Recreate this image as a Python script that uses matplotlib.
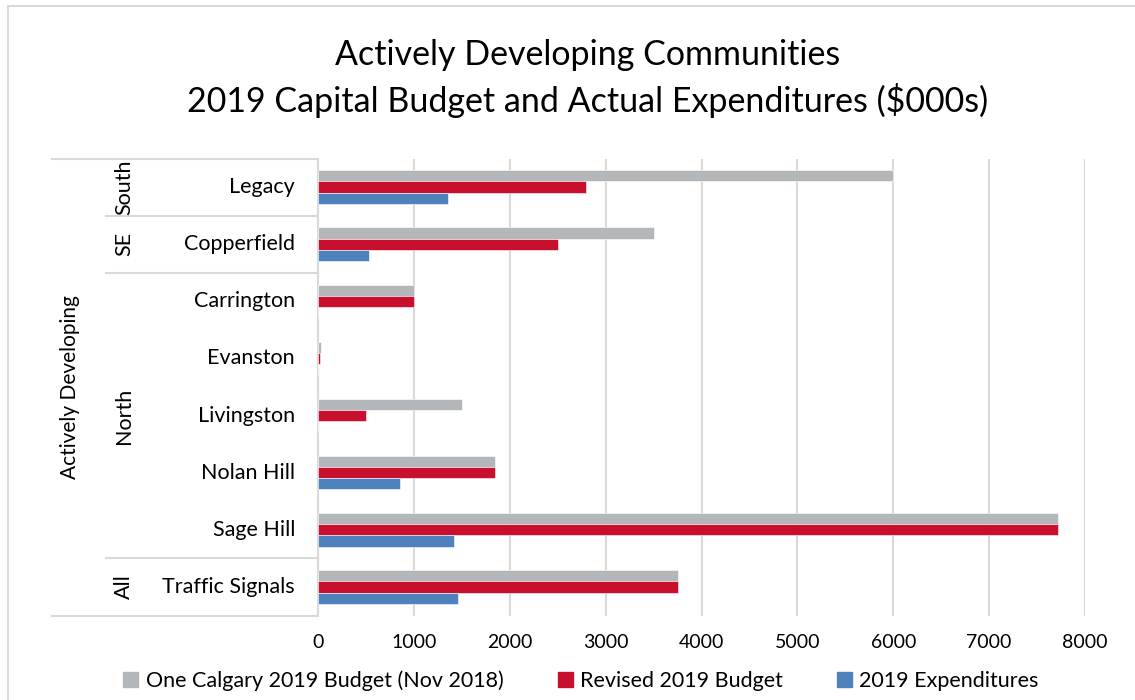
import matplotlib
matplotlib.use("Agg")
import matplotlib.pyplot as plt
from matplotlib import transforms
from matplotlib.lines import Line2D
from matplotlib.patches import Rectangle

plt.rcParams["font.family"] = ["Lato", "DejaVu Sans"]

# 커뮤니티별 예산/지출 ($000s), 위에서 아래 순서
communities = ["Legacy", "Copperfield", "Carrington", "Evanston",
               "Livingston", "Nolan Hill", "Sage Hill", "Traffic Signals"]
one_calgary_budget = [6000, 3500, 1000, 30, 1500, 1850, 7720, 3750]
revised_budget = [2800, 2500, 1000, 25, 500, 1850, 7720, 3750]
expenditures = [1360, 535, 0, 0, 0, 860, 1420, 1465]

# 지역 그룹: (이름, 첫 행, 행 수)
regions = [("South", 0, 1), ("SE", 1, 1), ("North", 2, 5), ("All", 7, 1)]
outer_group = "Actively Developing"

series_labels = ["One Calgary 2019 Budget (Nov 2018)", "Revised 2019 Budget",
                 "2019 Expenditures"]
series_colors = ["#B4B7BA", "#C8102E", "#4F81BD"]
x_ticks = [0, 1000, 2000, 3000, 4000, 5000, 6000, 7000, 8000]

W, H = 1135, 700
fig = plt.figure(figsize=(W / 100, H / 100), dpi=100)


def fx(px):
    return px / W


def fy(py):
    return 1 - py / H


# 차트 테두리 (오른쪽/아래는 그림 밖으로 잘림)
fig.add_artist(Rectangle((fx(8), fy(740)), fx(1200), fy(6) - fy(740),
                         transform=fig.transFigure, fill=False,
                         edgecolor="#D9D9D9", linewidth=1.5))

fig.text(0.518, fy(55), "Actively Developing Communities", ha="center",
         va="center", fontsize=24.5)
fig.text(0.518, fy(101), "2019 Capital Budget and Actual Expenditures ($000s)",
         ha="center", va="center", fontsize=24.5)

ax_left, ax_right, ax_top, ax_bottom = 318, 1085, 158.5, 615.5
ax = fig.add_axes([fx(ax_left), fy(ax_bottom), fx(ax_right - ax_left),
                   fy(ax_top) - fy(ax_bottom)])

n = len(communities)
bar_h = 0.195
rows = [i + 0.5 for i in range(n)]
for values, offset, color in zip([one_calgary_budget, revised_budget, expenditures],
                                 [-bar_h, 0, bar_h], series_colors):
    ax.barh([r + offset for r in rows], values, height=bar_h, color=color,
            edgecolor="white", linewidth=0.4, zorder=3)

ax.set_xlim(0, 8000)
ax.set_ylim(n, 0)
ax.set_xticks(x_ticks)
ax.set_xticklabels([str(t) for t in x_ticks], fontsize=14)
ax.tick_params(axis="x", length=0, pad=13)
ax.set_yticks([])
ax.grid(axis="x", color="#D9D9D9", linewidth=1.5, zorder=0)
for side in ["top", "right", "bottom"]:
    ax.spines[side].set_visible(False)
ax.spines["left"].set_color("#D9D9D9")
ax.spines["left"].set_linewidth(1.5)

# 왼쪽 계층형 카테고리 표
blend = transforms.blended_transform_factory(fig.transFigure, ax.transData)
line_kw = dict(color="#D9D9D9", linewidth=1.5, transform=blend, clip_on=False)
fig.add_artist(Line2D([fx(52), fx(ax_left)], [0, 0], **line_kw))
fig.add_artist(Line2D([fx(52), fx(ax_left)], [n, n], **line_kw))
for name, start, count in regions:
    if start > 0:
        fig.add_artist(Line2D([fx(106), fx(ax_left)], [start, start], **line_kw))
    fig.text(fx(124), start + count / 2, name, transform=blend, rotation=90,
             ha="center", va="center", fontsize=15.5)

for r, name in zip(rows, communities):
    fig.text(fx(295), r, name, transform=blend, ha="right", va="center",
             fontsize=15.5)

fig.text(fx(70), n / 2, outer_group, transform=blend, rotation=90,
         ha="center", va="center", fontsize=15)

handles = [Rectangle((0, 0), 1, 1, color=c) for c in series_colors]
fig.legend(handles, series_labels, loc="center", bbox_to_anchor=(0.512, fy(681)),
           ncol=3, frameon=False, fontsize=15.5, handlelength=0.7,
           handleheight=0.7, handletextpad=0.35, columnspacing=2.5)

fig.savefig("out.png", dpi=100)
